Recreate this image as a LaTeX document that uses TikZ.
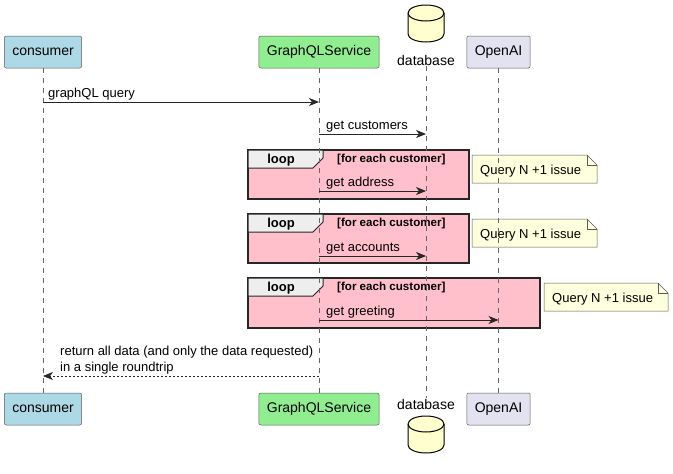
\documentclass[tikz,border=0pt]{standalone}
\usepackage{fontspec}
\setmainfont{Liberation Sans}
\usetikzlibrary{arrows.meta}
\definecolor{consumerblue}{HTML}{ADD8E6}
\definecolor{servicegreen}{HTML}{90EE90}
\definecolor{openaigray}{HTML}{E2E2F0}
\definecolor{dbyellow}{HTML}{FEFECE}
\definecolor{noteyellow}{HTML}{FEFFDD}
\definecolor{looppink}{HTML}{FFC0CB}
\definecolor{tabgray}{HTML}{EEEEEE}
\begin{document}
\begin{tikzpicture}[x=1pt, y=-1pt,
  participant/.style={draw=black!65, line width=0.5pt, rounded corners=2pt, minimum height=32pt, inner xsep=8pt, font=\fontsize{14}{16}\selectfont},
  lifeline/.style={draw=black!60, line width=0.5pt, dash pattern=on 5pt off 5pt},
  msg/.style={-{Stealth[length=10pt, width=8pt, inset=3pt]}, line width=0.8pt, draw=black!85},
  reply/.style={msg, dash pattern=on 2pt off 2pt},
  msglabel/.style={anchor=base west, inner sep=0pt, font=\fontsize{13}{16}\selectfont},
  loopbox/.style={draw=black!85, line width=1.5pt, fill=looppink},
  looptab/.style={draw=black!85, line width=1pt, fill=tabgray},
  guard/.style={anchor=base west, inner sep=0pt, font=\bfseries\fontsize{11.6}{13}\selectfont},
  notebox/.style={draw=black!65, line width=0.5pt, fill=noteyellow},
  dbdrum/.style={draw=black, line width=1pt, fill=dbyellow},
  dbname/.style={inner sep=1pt, font=\fontsize{14}{16}\selectfont}]
\useasboundingbox (0,0) rectangle (673,474);

% participants
\node[participant, fill=consumerblue] (consumertop) at (43,52) {consumer};
\node[participant, fill=servicegreen] (servicetop) at (319,52) {GraphQLService};
\node[participant, fill=openaigray] (openaitop) at (498.5,52) {OpenAI};
\node[participant, fill=consumerblue] (consumerbot) at (43,409) {consumer};
\node[participant, fill=servicegreen] (servicebot) at (319,409) {GraphQLService};
\node[participant, fill=openaigray] (openaibot) at (498.5,409) {OpenAI};

% database drums
\draw[dbdrum] (408,13) -- (408,34) arc[start angle=180, end angle=0, x radius=18, y radius=8] -- (444,13) arc[start angle=0, end angle=-180, x radius=18, y radius=8] -- cycle;
\draw[dbdrum, fill=none] (408,13) arc[start angle=180, end angle=0, x radius=18, y radius=8];
\node[dbname] (dbtop) at (426,60) {database};
\draw[dbdrum] (408,424) -- (408,445) arc[start angle=180, end angle=0, x radius=18, y radius=8] -- (444,424) arc[start angle=0, end angle=-180, x radius=18, y radius=8] -- cycle;
\draw[dbdrum, fill=none] (408,424) arc[start angle=180, end angle=0, x radius=18, y radius=8];
\node[dbname] (dbbot) at (426,404) {database};

% loops
\draw[loopbox] (248,150) rectangle (469,199);
\draw[looptab] (248,150) -- (323,150) -- (323,158) -- (313,168) -- (248,168) -- cycle;
\node[font=\bfseries\fontsize{13}{15}\selectfont, inner sep=0pt, anchor=base] (loopa) at (281,163.5) {loop};
\node[guard] (guarda) at (337,162.5) {[for each customer]};

\draw[loopbox] (248,214) rectangle (469,263);
\draw[looptab] (248,214) -- (323,214) -- (323,222) -- (313,232) -- (248,232) -- cycle;
\node[font=\bfseries\fontsize{13}{15}\selectfont, inner sep=0pt, anchor=base] (loopb) at (281,227.5) {loop};
\node[guard] (guardb) at (337,226.5) {[for each customer]};

\draw[loopbox] (248,278) rectangle (540,328);
\draw[looptab] (248,278) -- (323,278) -- (323,286) -- (313,296) -- (248,296) -- cycle;
\node[font=\bfseries\fontsize{13}{15}\selectfont, inner sep=0pt, anchor=base] (loopc) at (281,291.5) {loop};
\node[guard] (guardc) at (337,290.5) {[for each customer]};

% notes
\draw[notebox] (472,155) -- (587,155) -- (597,165) -- (597,183) -- (472,183) -- cycle;
\draw[notebox, fill=none] (587,155) -- (587,165) -- (597,165);
\node[msglabel] (notea) at (480,174) {Query N +1 issue};
\draw[notebox] (472,219) -- (587,219) -- (597,229) -- (597,247) -- (472,247) -- cycle;
\draw[notebox, fill=none] (587,219) -- (587,229) -- (597,229);
\node[msglabel] (noteb) at (480,238) {Query N +1 issue};
\draw[notebox] (544,283) -- (658,283) -- (668,293) -- (668,311) -- (544,311) -- cycle;
\draw[notebox, fill=none] (658,283) -- (658,293) -- (668,293);
\node[msglabel] (notec) at (552,302) {Query N +1 issue};

% lifelines
\draw[lifeline] (consumertop) -- (consumerbot);
\draw[lifeline] (servicetop) -- (servicebot);
\draw[lifeline] (dbtop) -- (dbbot);
\draw[lifeline] (openaitop) -- (openaibot);

% messages
\draw[msg] (consumertop |- 0,102) -- (servicetop |- 0,102);
\node[msglabel] () at (48,97) {graphQL query};
\draw[msg] (servicetop |- 0,134) -- (dbtop |- 0,134);
\node[msglabel] () at (326,129) {get customers};
\draw[msg] (servicetop |- 0,191) -- (dbtop |- 0,191);
\node[msglabel] () at (326,186) {get address};
\draw[msg] (servicetop |- 0,256) -- (dbtop |- 0,256);
\node[msglabel] () at (326,251) {get accounts};
\draw[msg] (servicetop |- 0,320) -- (openaitop |- 0,320);
\node[msglabel] () at (326,315) {get greeting};
\draw[reply] (servicetop |- 0,376) -- (consumertop |- 0,376);
\node[msglabel] () at (60,355) {return all data (and only the data requested)};
\node[msglabel] () at (60,371) {in a single roundtrip};
\end{tikzpicture}
\end{document}
